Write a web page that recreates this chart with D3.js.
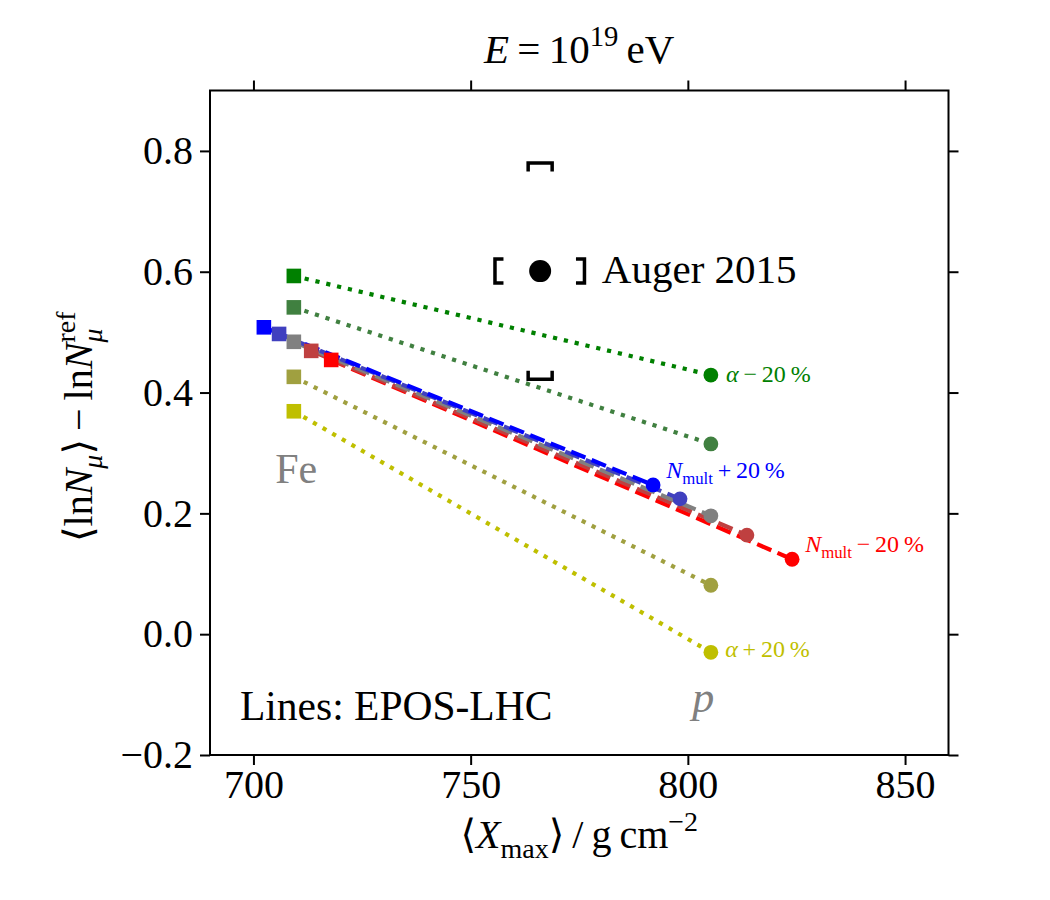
<!DOCTYPE html>
<html>
<head>
<meta charset="utf-8">
<script src="https://cdn.jsdelivr.net/npm/d3@7"></script>
<style>
  body { margin: 0; background: #fff; }
  svg text { font-family: "Liberation Serif", "DejaVu Serif", serif; white-space: pre; }
</style>
</head>
<body>
<div id="chart"></div>
<script>
// variations of EPOS-LHC, Fe (squares) to p (circles)
const seriesNames = ["alpha-20", "alpha-10", "nmult+20", "nmult+10", "ref", "nmult-10", "nmult-20", "alpha+10", "alpha+20"];
const xmaxFe = [709.3, 709.3, 702.4, 705.9, 709.3, 713.3, 717.9, 709.3, 709.3];
const lnNFe = [0.593, 0.541, 0.508, 0.497, 0.484, 0.469, 0.454, 0.426, 0.369];
const xmaxP = [805.3, 805.3, 792.0, 798.2, 805.3, 813.6, 824.0, 805.3, 805.3];
const lnNP = [0.429, 0.315, 0.247, 0.224, 0.196, 0.164, 0.124, 0.081, -0.030];
const seriesColors = ["#008000", "#408040", "#0000ff", "#4040bf", "#808080", "#bf4040", "#ff0000", "#a0a040", "#bfbf00"];
const seriesDash = ["dot", "dot", "dash", "dash", "dash", "dash", "dash", "dot", "dot"];
// line drawing order (blue dashes end up on top)
const lineOrder = [0, 1, 7, 8, 6, 5, 4, 3, 2];

// Auger 2015 point with systematic brackets
const augerX = 766.0, augerY = 0.601;
const augerXLo = 755.6, augerXHi = 776.2;
const augerYLo = 0.422, augerYHi = 0.780;

const xTicks = [700, 750, 800, 850];
const yTicks = [-0.2, 0, 0.2, 0.4, 0.6, 0.8];

const width = 1050, height = 900;
const margin = { top: 90.5, right: 101.5, bottom: 145, left: 210 };

const svg = d3.select("#chart").append("svg")
  .attr("width", width).attr("height", height)
  .attr("viewBox", `0 0 ${width} ${height}`);
svg.append("rect").attr("width", width).attr("height", height).attr("fill", "#fff");

const x = d3.scaleLinear().domain([690, 860]).range([margin.left, width - margin.right]);
const y = d3.scaleLinear().domain([-0.2, 0.9]).range([height - margin.bottom, margin.top]);

// text with italic / sub / sup pieces
function mathText(sel, parts, size) {
  const t = sel.append("text").attr("font-size", size);
  let shift = 0;
  parts.forEach((p) => {
    const target = p.sup ? -0.42 * size : p.sub ? 0.24 * size : 0;
    const ts = t.append("tspan").text(p.t).attr("dy", target - shift);
    if (p.dx) ts.attr("dx", p.dx);
    shift = target;
    if (p.sup || p.sub) ts.attr("font-size", size * 0.7);
    if (p.i) ts.attr("font-style", "italic");
  });
  return t;
}

// axes
const fs = 40;
const xAxisB = d3.axisBottom(x).tickValues(xTicks).tickSize(10).tickPadding(5).tickFormat(d3.format("d"));
const xAxisT = d3.axisTop(x).tickValues(xTicks).tickSize(10).tickFormat("");
const yAxisL = d3.axisLeft(y).tickValues(yTicks).tickSize(10).tickPadding(7).tickFormat(d3.format(".1f"));
const yAxisR = d3.axisRight(y).tickValues(yTicks).tickSize(10).tickFormat("");

function styleAxis(g) {
  g.select(".domain").remove();
  g.selectAll(".tick line").attr("stroke", "#000").attr("stroke-width", 2);
  g.selectAll(".tick text").attr("font-size", fs).attr("fill", "#000")
    .style("font-family", "'Liberation Serif', serif");
}

svg.append("g").attr("transform", `translate(0,${y(-0.2)})`).call(xAxisB).call(styleAxis);
svg.append("g").attr("transform", `translate(0,${y(0.9)})`).call(xAxisT).call(styleAxis);
svg.append("g").attr("transform", `translate(${x(690)},0)`).call(yAxisL).call(styleAxis);
svg.append("g").attr("transform", `translate(${x(860)},0)`).call(yAxisR).call(styleAxis);

const plot = svg.append("g");

// series lines
const line = d3.line().x((d) => x(d[0])).y((d) => y(d[1]));
lineOrder.forEach((i) => {
  const pts = [[xmaxFe[i], lnNFe[i]], [xmaxP[i], lnNP[i]]];
  plot.append("path")
    .attr("class", "series " + seriesNames[i])
    .attr("d", line(pts))
    .attr("fill", "none")
    .attr("stroke", seriesColors[i])
    .attr("stroke-width", 4.2)
    .attr("stroke-dasharray", seriesDash[i] === "dot" ? "4.2,6.9" : "15.4,6.7");
});

// end markers: Fe squares, p circles
seriesNames.forEach((name, i) => {
  const s = 14.6;
  plot.append("rect")
    .attr("x", x(xmaxFe[i]) - s / 2).attr("y", y(lnNFe[i]) - s / 2)
    .attr("width", s).attr("height", s)
    .attr("fill", seriesColors[i]);
  plot.append("circle")
    .attr("cx", x(xmaxP[i])).attr("cy", y(lnNP[i])).attr("r", 7.4)
    .attr("fill", seriesColors[i]);
});

// Auger point
const cap = 12, leg = 8.5;
const bracket = plot.append("path")
  .attr("fill", "none").attr("stroke", "#000").attr("stroke-width", 3.5)
  .attr("stroke-linejoin", "miter").attr("stroke-linecap", "butt");
const ax = x(augerX), ay = y(augerY);
const xl = x(augerXLo), xh = x(augerXHi), yt = y(augerYHi), yb = y(augerYLo);
bracket.attr("d", [
  `M${ax - cap},${yt + leg}V${yt}H${ax + cap}V${yt + leg}`,
  `M${ax - cap},${yb - leg}V${yb}H${ax + cap}V${yb - leg}`,
  `M${xl + leg},${ay - cap}H${xl}V${ay + cap}H${xl + leg}`,
  `M${xh - leg},${ay - cap}H${xh}V${ay + cap}H${xh - leg}`
].join(""));
plot.append("circle").attr("cx", ax).attr("cy", ay).attr("r", 11).attr("fill", "#000");

// annotations
const ann = svg.append("g");
mathText(ann, [{ t: "Auger 2015" }], 41).attr("x", x(780.2)).attr("y", y(0.581));
mathText(ann, [{ t: "Lines: EPOS-LHC" }], 41.5).attr("x", x(696.9)).attr("y", y(-0.142));
mathText(ann, [{ t: "Fe" }], 42).attr("x", x(705.0)).attr("y", y(0.250)).attr("fill", "#808080");
mathText(ann, [{ t: "p", i: true }], 44).attr("x", x(801.0)).attr("y", y(-0.129)).attr("fill", "#808080");

const small = 24;
mathText(ann, [{ t: "α", i: true }, { t: "\u2009−\u200920\u2009%" }], small)
  .attr("x", x(808.8)).attr("y", y(0.418)).attr("fill", "#008000");
mathText(ann, [{ t: "α", i: true }, { t: "\u2009+\u200920\u2009%" }], small)
  .attr("x", x(808.6)).attr("y", y(-0.038)).attr("fill", "#bfbf00");
mathText(ann, [{ t: "N", i: true }, { t: "mult", sub: true }, { t: "\u2009+\u200920\u2009%" }], small)
  .attr("x", x(795.0)).attr("y", y(0.258)).attr("fill", "#0000ff");
mathText(ann, [{ t: "N", i: true }, { t: "mult", sub: true }, { t: "\u2009−\u200920\u2009%" }], small)
  .attr("x", x(827.0)).attr("y", y(0.136)).attr("fill", "#ff0000");

// title and axis labels
mathText(svg, [{ t: "E", i: true }, { t: "\u2009=\u200910" }, { t: "19", sup: true }, { t: "\u2009eV" }], 41)
  .attr("x", (x(690) + x(860)) / 2).attr("y", 63).attr("text-anchor", "middle");

mathText(svg, [{ t: "⟨" }, { t: "X", i: true }, { t: "max", sub: true }, { t: "⟩\u2009/\u2009g\u2009cm" }, { t: "−2", sup: true }], fs)
  .attr("x", (x(690) + x(860)) / 2).attr("y", 848).attr("text-anchor", "middle");

mathText(svg, [
  { t: "⟨ln" }, { t: "N", i: true }, { t: "μ", i: true, sub: true },
  { t: "⟩\u2009−\u2009ln" }, { t: "N", i: true }, { t: "μ", i: true, sub: true },
  { t: "ref", sup: true, dx: -14 }
], fs)
  .attr("text-anchor", "middle")
  .attr("transform", `translate(92,${(y(-0.2) + y(0.9)) / 2 + 4}) rotate(-90)`);

// frame
svg.append("rect")
  .attr("x", x(690)).attr("y", y(0.9))
  .attr("width", x(860) - x(690)).attr("height", y(-0.2) - y(0.9))
  .attr("fill", "none").attr("stroke", "#000").attr("stroke-width", 2);
</script>
</body>
</html>
